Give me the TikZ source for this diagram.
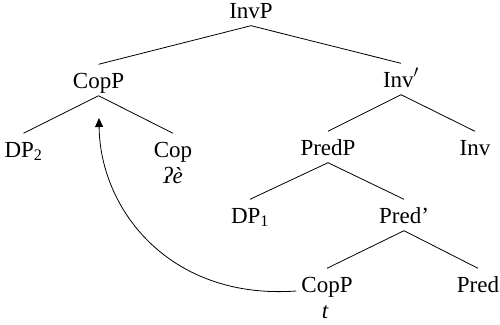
\documentclass[tikz,border=0pt]{standalone}
\usepackage{fontspec}
\setmainfont{Liberation Serif}
\usetikzlibrary{arrows.meta}
\begin{document}
\begin{tikzpicture}[x=1pt,y=-1pt,
  lab/.style={font=\fontsize{23}{26}\selectfont, anchor=base, inner xsep=1pt, inner ysep=2.5pt, text height=21pt, text depth=5pt},
  gloss/.style={font=\fontsize{23}{26}\selectfont\itshape, anchor=base, inner sep=1pt},
  edge/.style={line width=0.8pt}]
\useasboundingbox (0,0) rectangle (500,324);
\node[lab] (invp) at (251,18) {InvP};
\node[lab] (copp) at (98.5,88) {CopP};
\node[lab] (invbar) at (401,87) {Inv$'$};
\node[lab] (dp2) at (23.5,157) {DP\textsubscript{2}};
\node[lab] (cop) at (173,157) {Cop};
\node[gloss] (re) at (173,183) {ʔè};
\node[lab] (predp) at (328,155) {PredP};
\node[lab] (inv) at (475,155) {Inv};
\node[lab] (dp1) at (250,223) {DP\textsubscript{1}};
\node[lab] (predbar) at (404,223) {Pred’};
\node[lab] (copp2) at (327,292) {CopP};
\node[gloss] (t) at (325,318) {t};
\node[lab] (pred) at (478,292) {Pred};
\draw[edge] (invp.south) -- (copp.north);
\draw[edge] (invp.south) -- (invbar.north);
\draw[edge] (copp.south) -- (dp2.north);
\draw[edge] (copp.south) -- (cop.north);
\draw[edge] (invbar.south) -- (predp.north);
\draw[edge] (invbar.south) -- (inv.north);
\draw[edge] (predp.south) -- (dp1.north);
\draw[edge] (predp.south) -- (predbar.north);
\draw[edge] (predbar.south) -- (copp2.north);
\draw[edge] (predbar.south) -- (pred.north);
\coordinate (tip) at (99,118);
\draw[edge, -{Triangle[length=9pt,width=8pt]}] ([xshift=-4pt,yshift=-7pt]copp2.west) .. controls (170,300) and (100,210) .. (tip);
\end{tikzpicture}
\end{document}
